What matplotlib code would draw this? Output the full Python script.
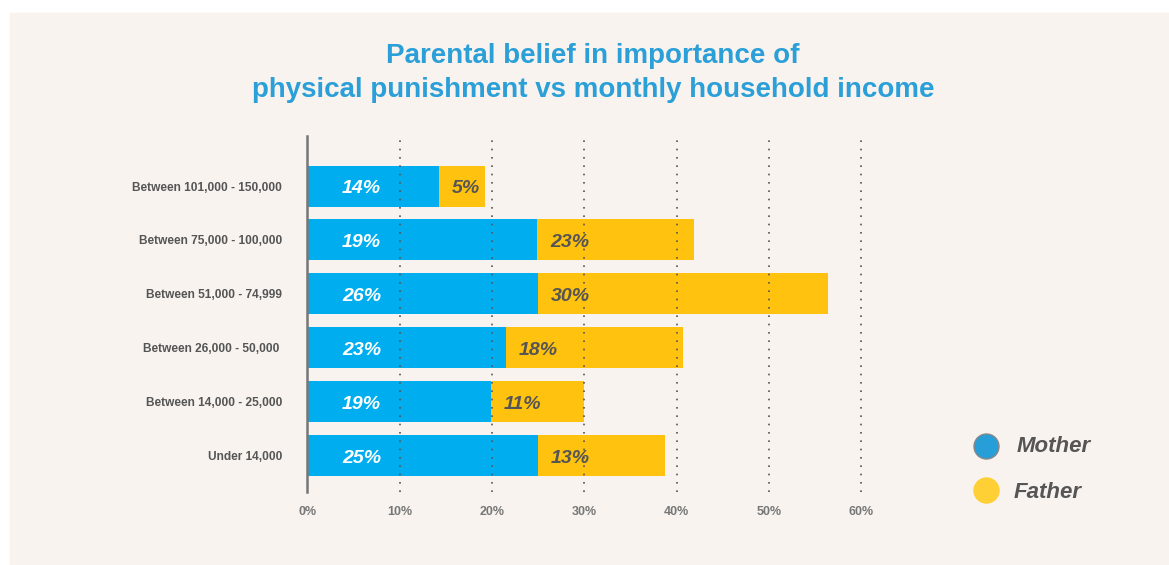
import numpy as np
import matplotlib
matplotlib.use("Agg")
import matplotlib.pyplot as plt
from matplotlib.patches import Rectangle

# income groups, bottom to top
groups = ["Under 14,000", "Between 14,000 - 25,000", "Between 26,000 - 50,000 ",
          "Between 51,000 - 74,999", "Between 75,000 - 100,000", "Between 101,000 - 150,000"]
# bar lengths as drawn in the picture (percentage points)
mother = [25.0, 19.9, 21.5, 25.0, 24.9, 14.3]
father = [13.8, 10.1, 19.2, 31.4, 17.0, 5.0]
# labels printed on the bars
mother_labels = ["25%", "19%", "23%", "26%", "19%", "14%"]
father_labels = ["13%", "11%", "18%", "30%", "23%", "5%"]
xticks = [0, 10, 20, 30, 40, 50, 60]

BLUE = "#00aeef"
YELLOW = "#ffc20e"
BG = "#f8f3ef"
GREY = "#555555"
FONT = ["Liberation Sans", "DejaVu Sans"]
TITLE_FONT = ["Liberation Sans Narrow", "Liberation Sans", "DejaVu Sans"]

W, H = 1169, 565
fig = plt.figure(figsize=(W / 100, H / 100), dpi=100)
fig.patch.set_facecolor("white")
fig.patches.append(Rectangle((10 / W, 0), 1 - 10 / W, 1 - 13 / H,
                             transform=fig.transFigure, color=BG, zorder=-5))

# axes placement in pixels
x0, px_per = 307.3, 9.23
xmax = 62
top, bottom = 136, 492
ax = fig.add_axes([x0 / W, 1 - bottom / H, xmax * px_per / W, (bottom - top) / H])
ax.set_facecolor("none")

y = np.arange(len(groups))
ax.barh(y, mother, height=0.76, color=BLUE, zorder=2)
ax.barh(y, father, left=mother, height=0.76, color=YELLOW, zorder=2)

for i in range(len(groups)):
    ax.text(8.0, y[i] - 0.05, mother_labels[i], ha="right", va="center", color="white",
            fontsize=14, fontweight="bold", fontstyle="italic", family=FONT, zorder=4)
    ax.text(mother[i] + 1.4, y[i] - 0.05, father_labels[i], ha="left", va="center", color=GREY,
            fontsize=14, fontweight="bold", fontstyle="italic", family=FONT, zorder=4)

for t in xticks[1:]:
    ax.axvline(t, color="#555555", linestyle=(0, (1, 4)), linewidth=1.2, zorder=3)

ax.set_xlim(0, xmax)
ax.set_ylim(-0.68, 5.93)
ax.set_yticks(y)
ax.set_yticklabels(groups, fontsize=8.6, fontweight="bold", color=GREY, family=FONT)
ax.set_xticks(xticks)
ax.set_xticklabels([f"{t}%" for t in xticks], fontsize=9, fontweight="bold",
                   color="#777777", family=FONT)
ax.tick_params(axis="y", length=0, pad=18)
ax.tick_params(axis="x", length=0, pad=10)
for s in ["top", "right", "bottom"]:
    ax.spines[s].set_visible(False)
ax.spines["left"].set_color("#777777")
ax.spines["left"].set_linewidth(1.8)
ax.spines["left"].set_zorder(5)

fig.text(593 / W, 1 - 56 / H, "Parental belief in importance of", ha="center", va="center",
         fontsize=20, fontweight="bold", color="#2a9fd8", family=TITLE_FONT)
fig.text(593 / W, 1 - 90 / H, "physical punishment vs monthly household income", ha="center",
         va="center", fontsize=20, fontweight="bold", color="#2a9fd8", family=TITLE_FONT)

# legend
fig.add_artist(plt.Line2D([986 / W], [1 - 446 / H], marker="o", markersize=18,
                          markerfacecolor="#279ed8", markeredgecolor="#888888",
                          markeredgewidth=1, transform=fig.transFigure))
fig.add_artist(plt.Line2D([986 / W], [1 - 490 / H], marker="o", markersize=18,
                          markerfacecolor="#ffd035", markeredgecolor="#ffd035",
                          transform=fig.transFigure))
fig.text(1017 / W, 1 - 447 / H, "Mother", ha="left", va="center", fontsize=16,
         fontweight="bold", fontstyle="italic", color=GREY, family=FONT)
fig.text(1014 / W, 1 - 492 / H, "Father", ha="left", va="center", fontsize=16,
         fontweight="bold", fontstyle="italic", color=GREY, family=FONT)

fig.savefig("out.png", dpi=100, facecolor=fig.get_facecolor())
